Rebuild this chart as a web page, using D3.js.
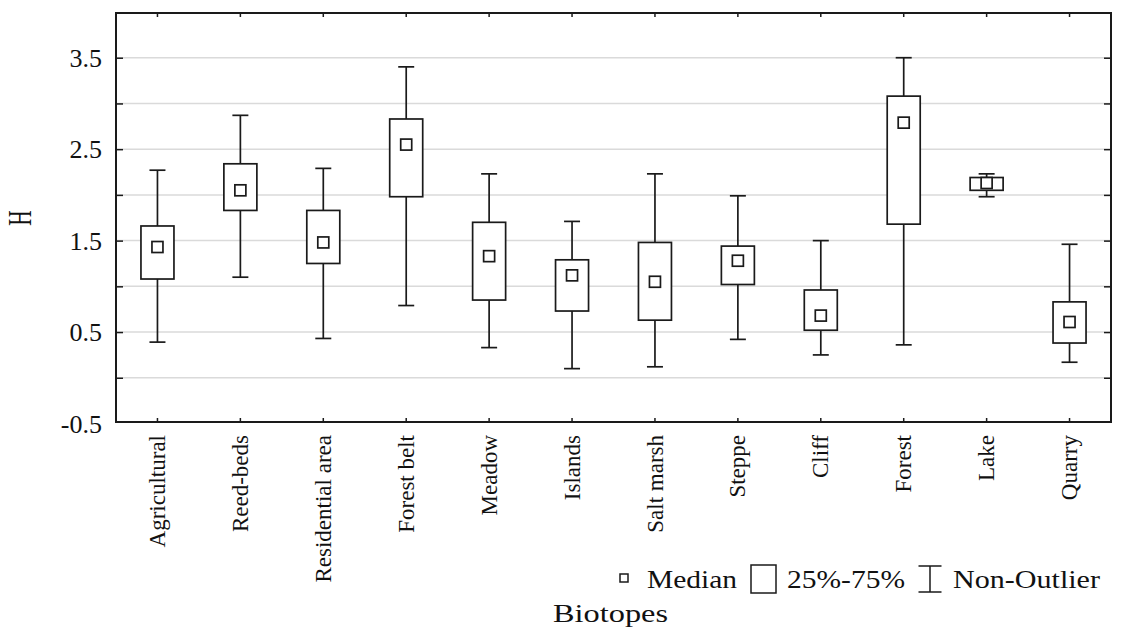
<!DOCTYPE html>
<html>
<head>
<meta charset="utf-8">
<script src="https://cdn.jsdelivr.net/npm/d3@7"></script>
<style>
  body { margin: 0; background: #fff; }
  text { font-family: "Liberation Serif", "Times New Roman", serif; fill: #111; }
</style>
</head>
<body>
<div id="chart"></div>
<script>
// Box plot - H per biotope

const categories = ["Agricultural", "Reed-beds", "Residential area", "Forest belt", "Meadow", "Islands",
                    "Salt marsh", "Steppe", "Cliff", "Forest", "Lake", "Quarry"];
const upper  = [2.27, 2.87, 2.29, 3.40, 2.23, 1.71, 2.23, 1.99, 1.50, 3.50, 2.23, 1.46];
const q3     = [1.66, 2.34, 1.83, 2.83, 1.70, 1.29, 1.48, 1.44, 0.96, 3.08, 2.19, 0.83];
const median = [1.43, 2.05, 1.48, 2.55, 1.33, 1.12, 1.05, 1.28, 0.68, 2.79, 2.13, 0.61];
const q1     = [1.08, 1.83, 1.25, 1.98, 0.85, 0.73, 0.63, 1.02, 0.52, 1.68, 2.05, 0.38];
const lower  = [0.39, 1.10, 0.43, 0.79, 0.33, 0.10, 0.12, 0.42, 0.25, 0.36, 1.98, 0.17];

const yLabels = [3.5, 2.5, 1.5, 0.5, -0.5];
const yGrid = [0, 0.5, 1, 1.5, 2, 2.5, 3, 3.5];

// set the dimensions and margins of the graph
const margin = {top: 13, right: 29, bottom: 206, left: 116},
    width = 1140 - margin.left - margin.right,
    height = 628 - margin.top - margin.bottom;

const svg = d3.select("#chart")
  .append("svg")
    .attr("width", 1140)
    .attr("height", 628);

const g = svg.append("g")
    .attr("transform", `translate(${margin.left}, ${margin.top})`);

// scales
let x = d3.scaleBand()
  .domain(categories)
  .range([0, width]);
let y = d3.scaleLinear()
  .domain([-0.5, 4])
  .range([height + 1.5, -1]);

const boxW = 33, capW = 16, medW = 11;
const ink = "#1a1a1a";

// grid
g.selectAll(".grid")
  .data(yGrid)
  .enter().append("line")
    .attr("x1", 0).attr("x2", width)
    .attr("y1", d => y(d)).attr("y2", d => y(d))
    .attr("stroke", "#dadada")
    .attr("stroke-width", 1.5);

// axes (ticks inside the frame)
g.append("g")
  .call(d3.axisLeft(y).tickValues(yGrid).tickSize(-7).tickFormat(""))
  .call(a => a.select(".domain").remove())
  .selectAll("line").attr("stroke", ink).attr("stroke-width", 1.5);
g.append("g")
  .attr("transform", `translate(${width}, 0)`)
  .call(d3.axisRight(y).tickValues(yGrid).tickSize(-7).tickFormat(""))
  .call(a => a.select(".domain").remove())
  .selectAll("line").attr("stroke", ink).attr("stroke-width", 1.5);
g.append("g")
  .call(d3.axisTop(x).tickSize(-4).tickFormat(""))
  .call(a => a.select(".domain").remove())
  .selectAll("line").attr("stroke", ink).attr("stroke-width", 1.5);
g.append("g")
  .attr("transform", `translate(0, ${height})`)
  .call(d3.axisBottom(x).tickSize(-4).tickFormat(""))
  .call(a => a.select(".domain").remove())
  .selectAll("line").attr("stroke", ink).attr("stroke-width", 1.5);

// frame
g.append("rect")
  .attr("width", width)
  .attr("height", height)
  .attr("fill", "none")
  .attr("stroke", ink)
  .attr("stroke-width", 2);

// y labels
g.selectAll(".ylab")
  .data(yLabels)
  .enter().append("text")
    .attr("x", -14)
    .attr("y", d => y(d))
    .attr("dy", "0.35em")
    .attr("text-anchor", "end")
    .style("font-size", "26px")
    .text(d => d.toFixed(1));

// x labels
g.selectAll(".xlab")
  .data(categories)
  .enter().append("text")
    .attr("transform", d => `translate(${x(d) + x.bandwidth() / 2}, ${height + 13}) rotate(-90)`)
    .attr("dy", "0.33em")
    .attr("text-anchor", "end")
    .style("font-size", "23px")
    .text(d => d);

// boxes
const cx = i => x(categories[i]) + x.bandwidth() / 2;
const idx = d3.range(categories.length);

const box = g.selectAll(".box")
  .data(idx)
  .enter().append("g")
    .attr("fill", "none")
    .attr("stroke", ink)
    .attr("stroke-width", 1.7);

box.append("line") // upper whisker
  .attr("x1", cx).attr("x2", cx)
  .attr("y1", i => y(upper[i])).attr("y2", i => y(q3[i]));
box.append("line") // lower whisker
  .attr("x1", cx).attr("x2", cx)
  .attr("y1", i => y(q1[i])).attr("y2", i => y(lower[i]));
box.append("line")
  .attr("x1", i => cx(i) - capW / 2).attr("x2", i => cx(i) + capW / 2)
  .attr("y1", i => y(upper[i])).attr("y2", i => y(upper[i]));
box.append("line")
  .attr("x1", i => cx(i) - capW / 2).attr("x2", i => cx(i) + capW / 2)
  .attr("y1", i => y(lower[i])).attr("y2", i => y(lower[i]));
box.append("rect")
  .attr("x", i => cx(i) - boxW / 2)
  .attr("y", i => y(q3[i]))
  .attr("width", boxW)
  .attr("height", i => y(q1[i]) - y(q3[i]))
  .attr("fill", "#fff");
box.append("rect")
  .attr("x", i => cx(i) - medW / 2)
  .attr("y", i => y(median[i]) - medW / 2)
  .attr("width", medW)
  .attr("height", medW)
  .attr("fill", "#fff");

// axis titles
svg.append("text")
  .attr("transform", "translate(31, 218) rotate(-90) scale(0.65, 1)")
  .attr("text-anchor", "middle")
  .style("font-size", "33px")
  .text("H");

svg.append("text")
  .attr("x", 553)
  .attr("y", 622)
  .attr("textLength", 115)
  .attr("lengthAdjust", "spacingAndGlyphs")
  .style("font-size", "26px")
  .text("Biotopes");

// legend
const leg = svg.append("g");
leg.append("rect")
  .attr("x", 620).attr("y", 574).attr("width", 8).attr("height", 8)
  .attr("fill", "none").attr("stroke", ink).attr("stroke-width", 1.5);
leg.append("text")
  .attr("x", 647).attr("y", 588)
  .attr("textLength", 90).attr("lengthAdjust", "spacingAndGlyphs")
  .style("font-size", "25px").text("Median");
leg.append("rect")
  .attr("x", 751).attr("y", 565).attr("width", 25).attr("height", 28)
  .attr("fill", "none").attr("stroke", ink).attr("stroke-width", 1.5);
leg.append("text")
  .attr("x", 787).attr("y", 588)
  .attr("textLength", 118).attr("lengthAdjust", "spacingAndGlyphs")
  .style("font-size", "25px").text("25%-75%");
leg.append("path")
  .attr("d", "M918.5,566H941.5M930,566V592M918.5,592H941.5")
  .attr("fill", "none").attr("stroke", ink).attr("stroke-width", 1.5);
leg.append("text")
  .attr("x", 953).attr("y", 588)
  .attr("textLength", 147).attr("lengthAdjust", "spacingAndGlyphs")
  .style("font-size", "25px").text("Non-Outlier");
</script>
</body>
</html>
